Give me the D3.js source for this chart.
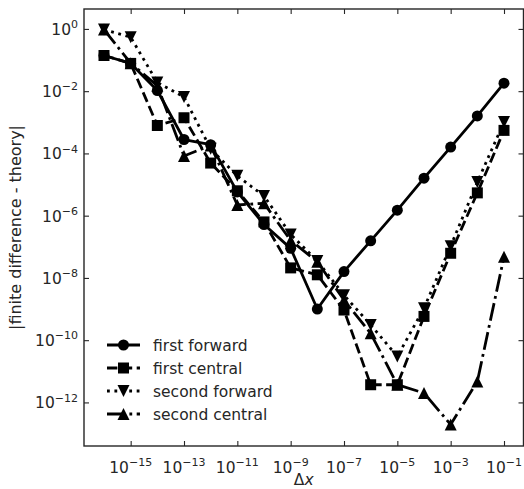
<!DOCTYPE html>
<html><head><meta charset="utf-8">
<script src="https://cdn.jsdelivr.net/npm/d3@7"></script>
<style>
body{margin:0;background:#fff}
svg{display:block}
text{font-family:"DejaVu Sans",sans-serif;fill:#262626}
</style>
</head><body>
<svg id="c" width="524" height="489"></svg>
<script>
// ---- data ----
const dx = [1e-16,1e-15,1e-14,1e-13,1e-12,1e-11,1e-10,1e-9,1e-8,1e-7,1e-6,1e-5,1e-4,1e-3,1e-2,1e-1];
const firstForward  = [1.4e-1,7.8e-2,1.05e-2,2.8e-4,1.9e-4,5.8e-6,5.2e-7,8.9e-8,1.0e-9,1.6e-8,1.55e-7,1.5e-6,1.6e-5,1.6e-4,1.6e-3,1.8e-2];
const firstCentral  = [1.4e-1,7.8e-2,7.9e-4,1.4e-3,4.9e-5,6.3e-6,6.3e-7,2.1e-8,1.26e-8,9.3e-10,3.7e-12,3.7e-12,5.8e-10,6.2e-8,5.4e-6,5.5e-4];
const secondForward = [0.95,0.54,1.9e-2,6.5e-3,1.4e-4,1.9e-5,4.3e-6,2.5e-7,3.5e-8,2.8e-9,3.1e-10,3.0e-11,1.07e-9,1.05e-7,1.2e-5,1.02e-3];
const secondCentral = [0.95,7.9e-2,1.5e-2,8.3e-5,1.8e-4,2.2e-6,2.5e-6,1.6e-7,3.3e-8,1.95e-9,1.66e-10,3.7e-12,2.0e-12,1.95e-13,4.7e-12,4.8e-8];
const seriesNames = ["first forward","first central","second forward","second central"];
const xTickExps = [-15,-13,-11,-9,-7,-5,-3,-1];
const yTickExps = [0,-2,-4,-6,-8,-10,-12];

// ---- layout ----
const L = 84, R = 523.5, T = 9, B = 446;
const svg = d3.select("#c");
const x = d3.scaleLog().domain([Math.pow(10,-16.75), Math.pow(10,-0.25)]).range([84, 524]);
const y = d3.scaleLog().domain([Math.pow(10,-13.4), Math.pow(10,0.64)]).range([B, T]);

const lw = 2.8;
const styles = [
  {dash:null, marker:"circle"},
  {dash:[3.7*lw,1.6*lw], marker:"square"},
  {dash:[1*lw,1.65*lw], marker:"tdown"},
  {dash:[6.4*lw,1.6*lw,1*lw,1.6*lw], marker:"tup"}
];
const data = [firstForward, firstCentral, secondForward, secondCentral];

function markerPath(kind){
  const m = 11;
  if(kind==="circle") return d3.symbol(d3.symbolCircle, Math.PI*(m/2)*(m/2))();
  if(kind==="square") return `M${-m/2},${-m/2}H${m/2}V${m/2}H${-m/2}Z`;
  const t = 12/2;
  if(kind==="tup") return `M0,${-t}L${t},${t}L${-t},${t}Z`;
  return `M0,${t}L${t},${-t}L${-t},${-t}Z`;
}

// axes ticks (inward), all four sides
const tickCol = "#262626";
const gx = svg.append("g").attr("transform",`translate(0,${B})`)
  .call(d3.axisBottom(x).tickValues(xTickExps.map(e=>Math.pow(10,e))).tickSizeInner(-5).tickSizeOuter(0).tickFormat(()=>""));
const gxt = svg.append("g").attr("transform",`translate(0,${T})`)
  .call(d3.axisTop(x).tickValues(xTickExps.map(e=>Math.pow(10,e))).tickSizeInner(-5).tickSizeOuter(0).tickFormat(()=>""));
const gy = svg.append("g").attr("transform",`translate(${L},0)`)
  .call(d3.axisLeft(y).tickValues(yTickExps.map(e=>Math.pow(10,e))).tickSizeInner(-5).tickSizeOuter(0).tickFormat(()=>""));
const gyr = svg.append("g").attr("transform",`translate(${R},0)`)
  .call(d3.axisRight(y).tickValues(yTickExps.map(e=>Math.pow(10,e))).tickSizeInner(-5).tickSizeOuter(0).tickFormat(()=>""));
[gx,gxt,gy,gyr].forEach(g=>{
  g.select(".domain").remove();
  g.selectAll(".tick line").attr("stroke",tickCol).attr("stroke-width",1.1);
});

// frame
svg.append("rect").attr("x",L).attr("y",T).attr("width",R-L).attr("height",B-T)
  .attr("fill","none").attr("stroke",tickCol).attr("stroke-width",1.4);

// tick labels
function supLabel(sel, e){
  sel.append("tspan").attr("font-size","15.5px").text("10");
  sel.append("tspan").attr("font-size","11px").attr("dy","-0.62em").text(e===0?"0":"\u2212"+Math.abs(e));
}
xTickExps.forEach(e=>{
  const t = svg.append("text").attr("x",x(Math.pow(10,e))).attr("y",B+27).attr("text-anchor","middle");
  supLabel(t,e);
});
yTickExps.forEach(e=>{
  const t = svg.append("text").attr("x",78).attr("y",y(Math.pow(10,e))+6).attr("text-anchor","end");
  supLabel(t,e);
});

// axis labels
const xl = svg.append("text").attr("x",(L+R)/2).attr("y",485).attr("text-anchor","middle").attr("font-size","15.5px");
xl.append("tspan").text("\u0394");
xl.append("tspan").attr("font-style","italic").text("x");
svg.append("text").attr("transform",`translate(21,${(T+B)/2}) rotate(-90)`).attr("text-anchor","middle")
  .attr("font-size","16px").text("|finite difference - theory|");

// series
const line = d3.line().x(d=>x(d[0])).y(d=>y(d[1]));
data.forEach((vals,i)=>{
  const pts = dx.map((d,j)=>[d, vals[j]]);
  const st = styles[i];
  const g = svg.append("g");
  g.append("path").attr("d",line(pts)).attr("fill","none").attr("stroke","#000")
    .attr("stroke-width",lw).attr("stroke-linejoin","round")
    .attr("stroke-dasharray", st.dash? st.dash.join(","): null);
  g.selectAll("path.m").data(pts).join("path").attr("class","m")
    .attr("transform",d=>`translate(${x(d[0])},${y(d[1])})`)
    .attr("d",markerPath(st.marker)).attr("fill","#000");
});

// legend
const lg = svg.append("g");
const rowY = [345, 368, 391, 414];
seriesNames.forEach((n,i)=>{
  const st = styles[i];
  lg.append("line").attr("x1",107).attr("x2",140).attr("y1",rowY[i]).attr("y2",rowY[i])
    .attr("stroke","#000").attr("stroke-width",lw)
    .attr("stroke-dasharray", st.dash? st.dash.join(","): null);
  lg.append("path").attr("transform",`translate(123.5,${rowY[i]})`).attr("d",markerPath(st.marker)).attr("fill","#000");
  lg.append("text").attr("x",153).attr("y",rowY[i]+5.5).attr("font-size","15.5px").text(n);
});
</script>
</body></html>
